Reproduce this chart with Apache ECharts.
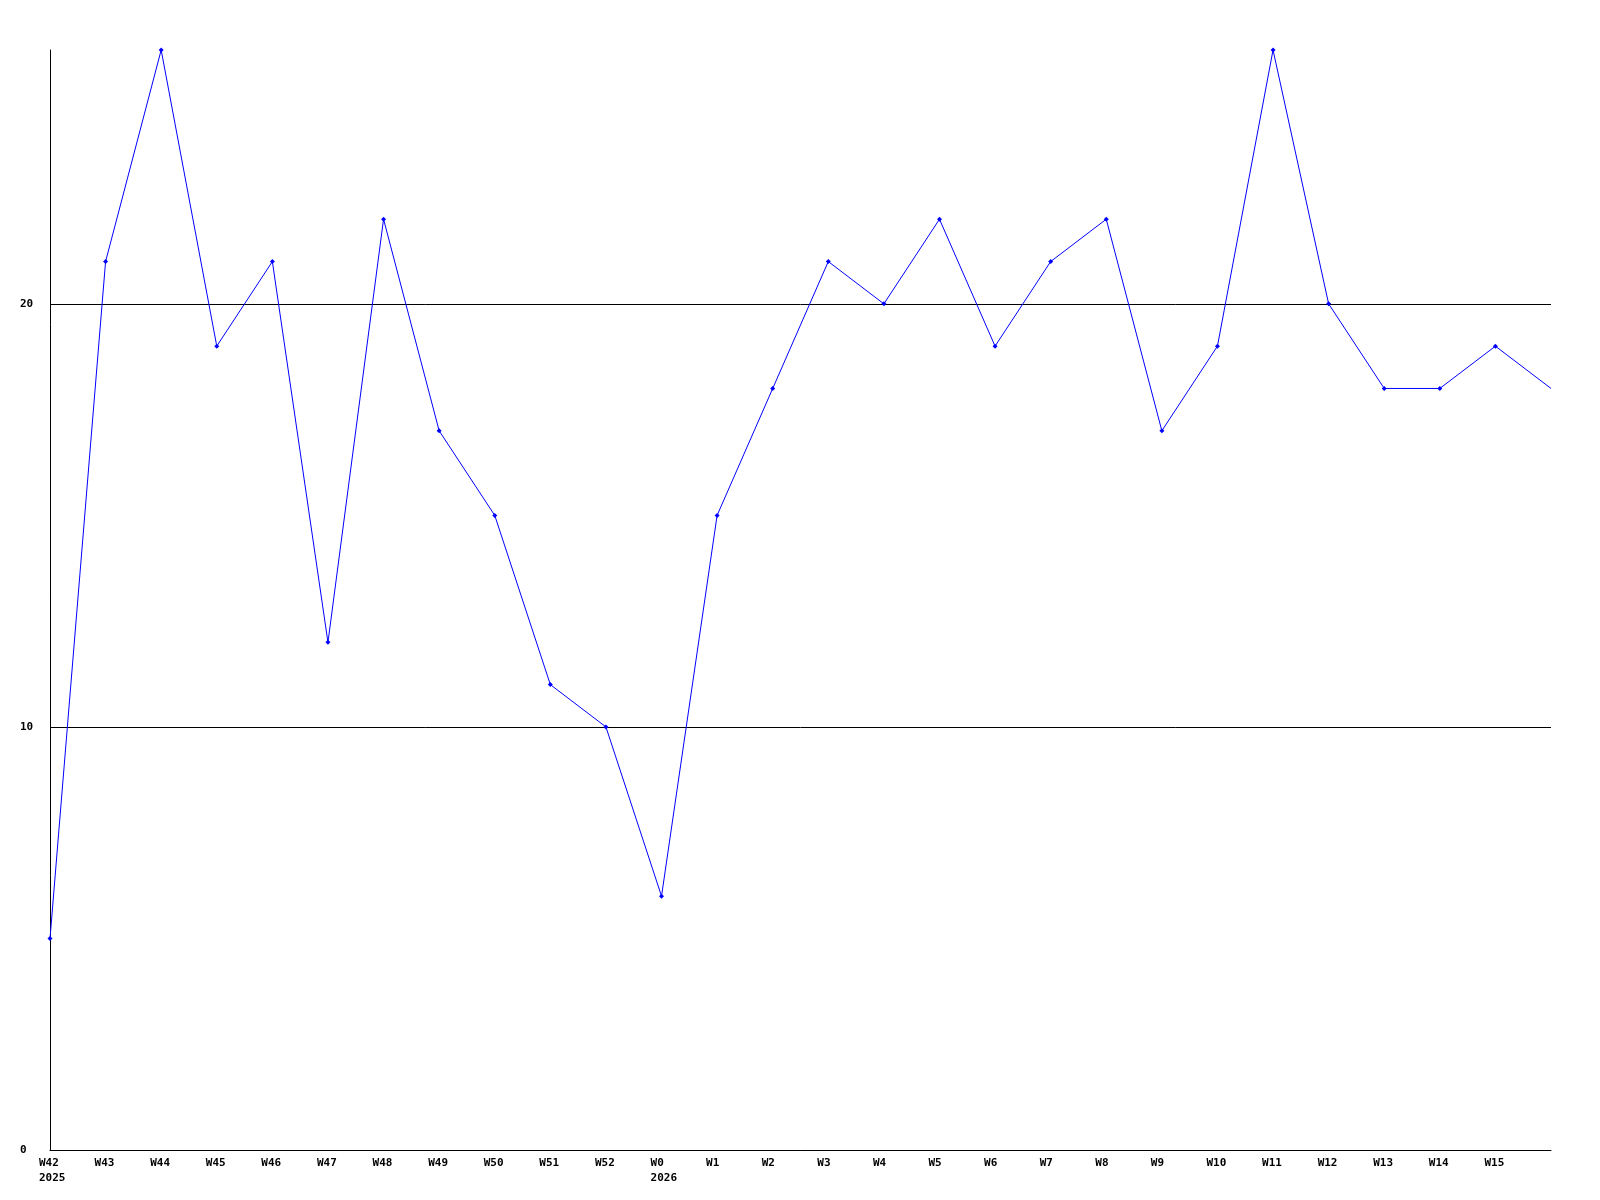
<!DOCTYPE html>
<html>
<head>
<meta charset="utf-8">
<script src="https://cdn.jsdelivr.net/npm/echarts@6/dist/echarts.min.js"></script>
<style>html,body{margin:0;padding:0;background:#fff}#c{width:1600px;height:1200px}</style>
</head>
<body>
<div id="c"></div>
<script>
const categories = ['W42\n2025','W43','W44','W45','W46','W47','W48','W49','W50','W51','W52','W0\n2026','W1','W2','W3','W4','W5','W6','W7','W8','W9','W10','W11','W12','W13','W14','W15',''];
const values = [5,21,26,19,21,12,22,17,15,11,10,6,15,18,21,20,22,19,21,22,17,19,26,20,18,18,19,18];
const yTicks = [0,10,20];

const chart = echarts.init(document.getElementById('c'), null, {renderer:'canvas'});
const font = '"DejaVu Sans Mono", "Liberation Mono", monospace';
const seriesData = values.map((v, i) => i === values.length - 1 ? {value: v, symbol: 'none'} : v);
chart.setOption({
  animation: false,
  backgroundColor: '#ffffff',
  grid: {left: 50, right: 49, top: 50, bottom: 50, containLabel: false},
  xAxis: {
    type: 'category',
    data: categories,
    boundaryGap: false,
    axisLine: {show: true, lineStyle: {color: '#000', width: 1}},
    axisTick: {show: false},
    splitLine: {show: false},
    axisLabel: {
      interval: 0, align: 'left', margin: 6,
      padding: [0,0,0,-11],
      fontFamily: font, fontWeight: 'bold', fontSize: 11, color: '#000', lineHeight: 15
    }
  },
  yAxis: {
    type: 'value', min: 0, max: 26, interval: 10,
    axisLine: {show: true, lineStyle: {color: '#000', width: 1}},
    axisTick: {show: false},
    splitLine: {show: true, showMaxLine: false, lineStyle: {color: '#000', width: 1}},
    axisLabel: {
      showMaxLabel: false, align: 'left', margin: 30,
      formatter: v => yTicks.includes(v) ? String(v) : '',
      fontFamily: font, fontWeight: 'bold', fontSize: 11, color: '#000'
    }
  },
  series: [{
    type: 'line',
    data: seriesData,
    symbol: 'diamond', symbolSize: 5, showAllSymbol: true,
    itemStyle: {color: '#0000ff'},
    lineStyle: {color: '#0000ff', width: 1}
  }]
});
</script>
</body>
</html>
